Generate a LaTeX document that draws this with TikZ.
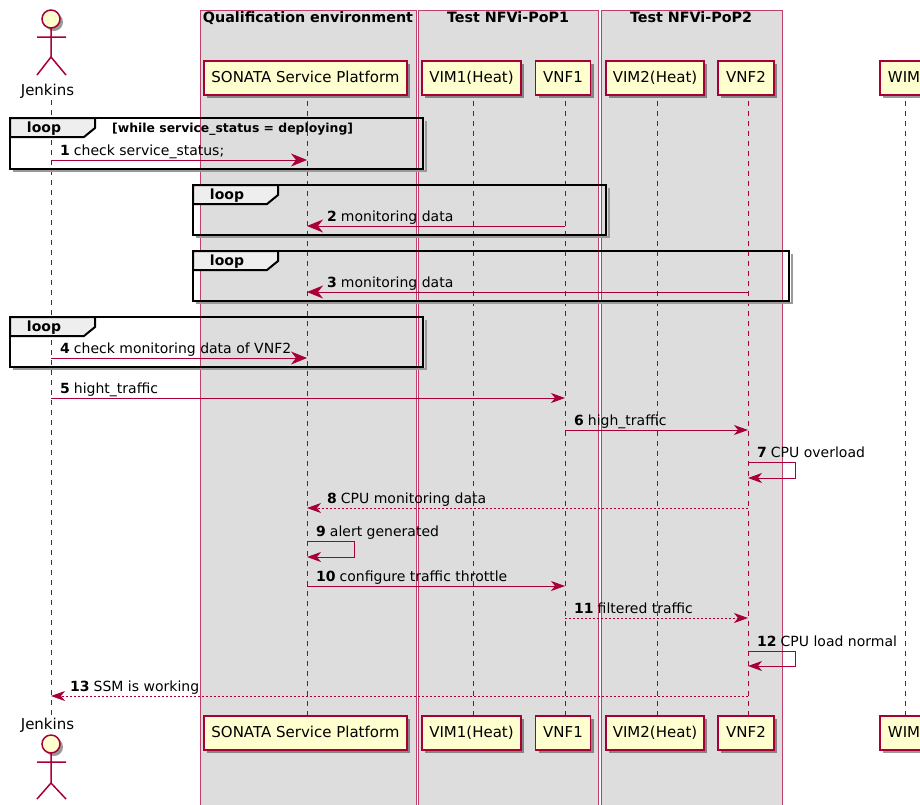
\documentclass[tikz,border=0pt]{standalone}
\usepackage{fontspec}
\setmainfont{DejaVu Sans}
\usetikzlibrary{arrows.meta, shadows}
\definecolor{SeqRed}{HTML}{A80036}
\definecolor{SeqCream}{HTML}{FEFECE}
\definecolor{SeqGrey}{HTML}{DDDDDD}
\definecolor{SeqTab}{HTML}{EEEEEE}
\newcommand{\msgnum}[1]{\textbf{#1}\hspace{4pt}}
\tikzset{
  boxarea/.style={draw=SeqRed!75, fill=SeqGrey, line width=1pt},
  boxtitle/.style={anchor=base, inner sep=0pt, font=\fontsize{14.3}{16}\selectfont\bfseries},
  partbox/.style={draw=SeqRed, fill=SeqCream, line width=1.5pt, minimum height=34pt, inner sep=0pt, text height=11pt, text depth=3pt, font=\fontsize{15}{17}\selectfont,
    drop shadow={shadow xshift=3pt, shadow yshift=-3pt, fill=black, opacity=0.4}},
  actorline/.style={draw=SeqRed, line width=1.5pt},
  actorname/.style={inner sep=0pt, font=\fontsize{15}{17}\selectfont},
  lifeline/.style={draw=SeqRed, line width=1pt, dash pattern=on 5pt off 5pt},
  msgbig/.style={draw=SeqRed, line width=1pt, -{Stealth[length=16pt, width=13pt, inset=5pt]}},
  msgsmall/.style={draw=SeqRed, line width=1pt, -{Stealth[length=14pt, width=10pt, inset=4pt]}},
  msgdots/.style={msgsmall, dash pattern=on 2pt off 2pt},
  msglabel/.style={anchor=base west, inner sep=0pt, font=\fontsize{14}{16}\selectfont},
  frameline/.style={draw=black, line width=2.3pt},
  frameshade/.style={draw=black!40, line width=2.5pt},
  tabshape/.style={draw=black, fill=SeqTab, line width=2pt},
  tabtext/.style={anchor=base, inner sep=0pt, font=\fontsize{14}{16}\selectfont\bfseries},
  guardtext/.style={anchor=base west, inner sep=0pt, font=\fontsize{12.4}{14}\selectfont\bfseries}
}
\begin{document}
\begin{tikzpicture}[x=1pt, y=-1pt]
  \useasboundingbox (0,0) rectangle (920,804);
  \clip (0,0) rectangle (920,804);

  % Grouping boxes
  \draw[boxarea] (200,10) rectangle (416,812);
  \draw[boxarea] (418,10) rectangle (598,812);
  \draw[boxarea] (601,10) rectangle (782,812);
  \node[boxtitle] (titleQual) at (308,22) {Qualification environment};
  \node[boxtitle] (titlePopA) at (508,22) {Test NFVi-PoP1};
  \node[boxtitle] (titlePopB) at (691,22) {Test NFVi-PoP2};

  % Lanes
  \coordinate (laneJenkins) at (51,0);
  \coordinate (laneSonata) at (307,0);
  \coordinate (laneVimA) at (473,0);
  \coordinate (laneVnfA) at (565,0);
  \coordinate (laneVimB) at (657,0);
  \coordinate (laneVnfB) at (748,0);
  \coordinate (laneWim) at (905,0);

  % Participants, top
  \node[actorname] (jenkins) at (47.5,91) {Jenkins};
  \node[partbox, minimum width=203pt] (sonata) at (305.5,78) {SONATA Service Platform};
  \node[partbox, minimum width=99pt] (vimA) at (471.5,78) {VIM1(Heat)};
  \node[partbox, minimum width=55pt] (vnfA) at (563,78) {VNF1};
  \node[partbox, minimum width=98pt] (vimB) at (655,78) {VIM2(Heat)};
  \node[partbox, minimum width=56pt] (vnfB) at (746,78) {VNF2};
  \node[partbox, minimum width=48pt] (wim) at (904,78) {WIM};

  % Participants, bottom
  \node[actorname] (jenkinsEnd) at (47.5,725) {Jenkins};
  \node[partbox, minimum width=203pt] (sonataEnd) at (305.5,733) {SONATA Service Platform};
  \node[partbox, minimum width=99pt] (vimAEnd) at (471.5,733) {VIM1(Heat)};
  \node[partbox, minimum width=55pt] (vnfAEnd) at (563,733) {VNF1};
  \node[partbox, minimum width=98pt] (vimBEnd) at (655,733) {VIM2(Heat)};
  \node[partbox, minimum width=56pt] (vnfBEnd) at (746,733) {VNF2};
  \node[partbox, minimum width=48pt] (wimEnd) at (904,733) {WIM};

  % Jenkins figure, top
  \draw[actorline, fill=black!40, draw=none] (54,22) circle (9);
  \draw[actorline, fill=SeqCream] (51,19) circle (9);
  \draw[actorline] (51,28) -- (51,57) (37,37) -- (66,37) (37,75) -- (51,57) -- (66,75);

  % Jenkins figure, bottom
  \draw[actorline, fill=black!40, draw=none] (54,747) circle (9);
  \draw[actorline, fill=SeqCream] (51,744) circle (9);
  \draw[actorline] (51,753) -- (51,783) (37,762) -- (66,762) (37,799) -- (51,783) -- (66,799);

  % Lifelines
  \draw[lifeline] (laneJenkins |- jenkins.south) ++(0,2) -- (laneJenkins |- jenkinsEnd.north);
  \draw[lifeline] (laneSonata |- sonata.south) ++(0,5) -- (laneSonata |- sonataEnd.north);
  \draw[lifeline] (laneVimA |- vimA.south) ++(0,5) -- (laneVimA |- vimAEnd.north);
  \draw[lifeline] (laneVnfA |- vnfA.south) ++(0,5) -- (laneVnfA |- vnfAEnd.north);
  \draw[lifeline] (laneVimB |- vimB.south) ++(0,5) -- (laneVimB |- vimBEnd.north);
  \draw[lifeline] (laneVnfB |- vnfB.south) ++(0,5) -- (laneVnfB |- vnfBEnd.north);
  \draw[lifeline] (laneWim |- wim.south) ++(0,5) -- (laneWim |- wimEnd.north);

  % Loop frames
  \draw[frameshade] (13,171) -- (426,171) -- (426,121);
  \draw[frameline] (10,118) rectangle (423,169);
  \draw[tabshape] (10,118) -- (95,118) -- (95,128) -- (84,137) -- (10,137) -- cycle;
  \node[tabtext] (loopA) at (44,132.5) {loop};
  \node[guardtext] (guardA) at (112,132) {[while service\_status = deploying]};

  \draw[frameshade] (196,237) -- (609,237) -- (609,188);
  \draw[frameline] (193,185) rectangle (606,235);
  \draw[tabshape] (193,185) -- (278,185) -- (278,195) -- (267,204) -- (193,204) -- cycle;
  \node[tabtext] (loopB) at (227,199.5) {loop};

  \draw[frameshade] (196,303) -- (792,303) -- (792,254);
  \draw[frameline] (193,251) rectangle (789,301);
  \draw[tabshape] (193,251) -- (278,251) -- (278,261) -- (267,270) -- (193,270) -- cycle;
  \node[tabtext] (loopC) at (227,265.5) {loop};

  \draw[frameshade] (13,369) -- (426,369) -- (426,320);
  \draw[frameline] (10,317) rectangle (423,367);
  \draw[tabshape] (10,317) -- (95,317) -- (95,327) -- (84,336) -- (10,336) -- cycle;
  \node[tabtext] (loopD) at (44,331.5) {loop};

  % Message rows
  \coordinate (rowA) at (0,160);
  \coordinate (rowB) at (0,226);
  \coordinate (rowC) at (0,292);
  \coordinate (rowD) at (0,358);
  \coordinate (rowE) at (0,398);
  \coordinate (rowF) at (0,430);
  \coordinate (rowG) at (0,462);
  \coordinate (rowGb) at (0,478);
  \coordinate (rowH) at (0,508);
  \coordinate (rowI) at (0,541);
  \coordinate (rowIb) at (0,557);
  \coordinate (rowJ) at (0,586);
  \coordinate (rowK) at (0,618);
  \coordinate (rowL) at (0,651);
  \coordinate (rowLb) at (0,666);
  \coordinate (rowM) at (0,696);

  % Messages
  \draw[msgbig] (laneJenkins |- rowA) -- (laneSonata |- rowA);
  \draw[msgbig] (laneVnfA |- rowB) -- (laneSonata |- rowB);
  \draw[msgbig] (laneVnfB |- rowC) -- (laneSonata |- rowC);
  \draw[msgbig] (laneJenkins |- rowD) -- (laneSonata |- rowD);
  \draw[msgsmall] (laneJenkins |- rowE) -- (laneVnfA |- rowE);
  \draw[msgsmall] (laneVnfA |- rowF) -- (laneVnfB |- rowF);
  \draw[msgsmall] (laneVnfB |- rowG) -- ++(47,0) -- ++(0,16) -- (laneVnfB |- rowGb);
  \draw[msgdots] (laneVnfB |- rowH) -- (laneSonata |- rowH);
  \draw[msgsmall] (laneSonata |- rowI) -- ++(47,0) -- ++(0,16) -- (laneSonata |- rowIb);
  \draw[msgsmall] (laneSonata |- rowJ) -- (laneVnfA |- rowJ);
  \draw[msgdots] (laneVnfA |- rowK) -- (laneVnfB |- rowK);
  \draw[msgsmall] (laneVnfB |- rowL) -- ++(47,0) -- ++(0,15) -- (laneVnfB |- rowLb);
  \draw[msgdots] (laneVnfB |- rowM) -- (laneJenkins |- rowM);

  % Message labels
  \node[msglabel] (labA) at (60,155) {\msgnum{1}check service\_status;};
  \node[msglabel] (labB) at (327,221) {\msgnum{2}monitoring data};
  \node[msglabel] (labC) at (327,287) {\msgnum{3}monitoring data};
  \node[msglabel] (labD) at (60,353) {\msgnum{4}check monitoring data of VNF2};
  \node[msglabel] (labE) at (60,393) {\msgnum{5}hight\_traffic};
  \node[msglabel] (labF) at (574,425) {\msgnum{6}high\_traffic};
  \node[msglabel] (labG) at (757,457) {\msgnum{7}CPU overload};
  \node[msglabel] (labH) at (327,503) {\msgnum{8}CPU monitoring data};
  \node[msglabel] (labI) at (316,536) {\msgnum{9}alert generated};
  \node[msglabel] (labJ) at (316,581) {\msgnum{10}configure traffic throttle};
  \node[msglabel] (labK) at (574,613) {\msgnum{11}filtered traffic};
  \node[msglabel] (labL) at (757,646) {\msgnum{12}CPU load normal};
  \node[msglabel] (labM) at (70,691.5) {\msgnum{13}SSM is working};
\end{tikzpicture}
\end{document}
